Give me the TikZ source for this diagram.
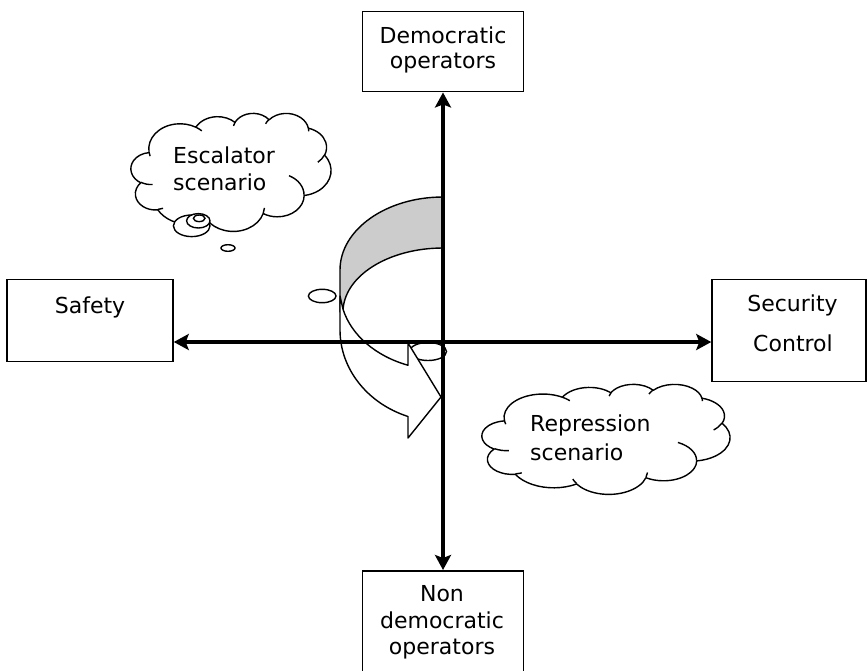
\documentclass[tikz,border=0pt]{standalone}
\usepackage{fontspec}
\setmainfont{DejaVu Sans}
\usetikzlibrary{arrows.meta}
\definecolor{bandgray}{RGB}{204,204,204}
% OOXML-style elliptical arc: wR hR stAng swAng (visual angles -> parametric)
\newcommand\ooCalc[4]{%
  \pgfmathparse{atan2((#1)*sin(#3),(#2)*cos(#3))}\xdef\ooTs{\pgfmathresult}%
  \pgfmathparse{atan2((#1)*sin((#3)+(#4)),(#2)*cos((#3)+(#4)))}\xdef\ooTe{\pgfmathresult}%
  \pgfmathparse{\ooTe-(\ooTs)}\xdef\ooD{\pgfmathresult}%
  \ifdim\ooD pt<0pt \pgfmathparse{\ooD+360}\xdef\ooD{\pgfmathresult}\fi}
\newcommand\ooArc[4]{\pgfextra{\ooCalc{#1}{#2}{#3}{#4}} arc[start angle=\ooTs, delta angle=\ooD, x radius=#1, y radius=#2]}
\newcommand\ooCloud[4]{%
\begin{scope}[shift={(#1,#2)}, xscale=#3/432, yscale=#4/432]
\draw[cloudline, fill=white] (39.00,143.70)
  \ooArc{67.53}{91.90}{-190.487}{123.781}
  \ooArc{53.33}{72.67}{-144.102}{89.945}
  \ooArc{43.65}{59.45}{-145.808}{99.723}
  \ooArc{48.57}{65.95}{-130.986}{117.242}
  \ooArc{53.33}{72.73}{-78.709}{109.027}
  \ooArc{67.75}{92.20}{-46.267}{130.269}
  \ooArc{57.85}{78.67}{0.625}{114.033}
  \ooArc{67.52}{92.15}{22.452}{115.173}
  \ooArc{77.20}{105.43}{66.243}{75.711}
  \ooArc{43.60}{59.18}{-274.942}{146.736}
  \ooArc{43.45}{59.45}{-246.829}{152.519}
  -- cycle;
\draw[cloudline]
  (46.93,261.77) \ooArc{43.45}{59.45}{86.742}{26.430}
  (69.28,348.99) \ooArc{43.60}{59.18}{73.610}{11.447}
  (164.78,390.90) \ooArc{67.52}{92.15}{137.624}{14.081}
  (288.27,347.51) \ooArc{67.52}{92.15}{6.453}{15.998}
  (341.29,229.54) \ooArc{57.85}{78.67}{-70.292}{70.917}
  (417.98,153.54) \ooArc{53.33}{72.73}{30.318}{27.752}
  (383.24,54.26) \ooArc{48.57}{65.95}{-13.744}{14.859}
  (290.78,39.52) \ooArc{48.57}{65.95}{-149.181}{18.195}
  (221.41,47.20) \ooArc{43.65}{59.45}{-163.494}{17.686}
  (140.00,51.92) \ooArc{67.53}{91.90}{-66.707}{12.319}
  (41.27,157.89) \ooArc{67.53}{91.90}{157.654}{11.858};
\end{scope}}
\begin{document}
\begin{tikzpicture}[x=1pt,y=-1pt,
  box/.style={draw, line width=1.5pt, inner sep=0pt, fill=white},
  lbl/.style={font=\fontsize{22}{26}\selectfont, inner sep=0pt, anchor=base},
  axisline/.style={line width=3.5pt,
    {Stealth[length=15pt,width=16pt,inset=3pt]}-{Stealth[length=15pt,width=16pt,inset=3pt]}},
  thinline/.style={line width=1.4pt, line join=round},
  cloudline/.style={line width=1.4pt, line join=round},
  bubble/.style={draw, line width=1.4pt, fill=white}]
\useasboundingbox[fill=white] (0,0) rectangle (867,670);

% small ellipses near the axes
\draw[bubble] (322.2,296) ellipse [x radius=13.8, y radius=6.7];
\draw[bubble] (428,351.5) ellipse [x radius=18.5, y radius=9];

% curved arrow: grey back face
\draw[thinline, fill=bandgray] (443,197)
  arc[start angle=-90, end angle=-180, x radius=103, y radius=73]
  -- (340,312) -- (343,312)
  arc[start angle=180, end angle=270, x radius=100, y radius=64]
  -- cycle;
% curved arrow: white front face with head
\draw[thinline, fill=white] ([shift={(443,290)}]166.14:103 and 80)
  arc[start angle=166.14, end angle=109.87, x radius=103, y radius=80]
  -- (408,343) -- (441,397) -- (408,438) -- (408,416.5)
  arc[start angle=109.87, end angle=180, x radius=103, y radius=92]
  -- (340,296) -- cycle;

% boxes
\node[box, minimum width=161, minimum height=80] (demo) at (443,51.7) {};
\node[box, minimum width=161, minimum height=106, anchor=north] (nondemo) at (443,570) {};
\node[box, minimum width=166, minimum height=82.4] (safety) at (90,320.5) {};
\node[box, minimum width=154, minimum height=102.4] (security) at (789,330.5) {};
\coordinate (O) at (443,342);

% axes
\draw[axisline] (demo.south) -- (nondemo.north);
\draw[axisline] (safety.east |- O) -- (security.west |- O);

% box texts
\node[lbl] (demoA) at (443,43) {Democratic};
\node[lbl] (demoB) at (443,68) {operators};
\node[lbl] (nondemoA) at (442,601) {Non};
\node[lbl] (nondemoB) at (442,628) {democratic};
\node[lbl] (nondemoC) at (442,654) {operators};
\node[lbl] (safetyA) at (90,313) {Safety};
\node[lbl] (securityA) at (792.5,311.7) {Security};
\node[lbl] (securityB) at (793,351.7) {Control};

% clouds
\ooCloud{131}{113}{200}{118}
\ooCloud{482}{384}{248}{110}
\draw[bubble] (191.7,225.8) ellipse [x radius=18.3, y radius=10.8];
\draw[bubble] (198.3,220.8) ellipse [x radius=11.7, y radius=7.2];
\draw[bubble] (199.2,218.3) ellipse [x radius=5.8, y radius=3.3];
\draw[bubble] (228,248) ellipse [x radius=7, y radius=3.3];

\node[lbl, anchor=base west] (escA) at (173,163.3) {Escalator};
\node[lbl, anchor=base west] (escB) at (173,190) {scenario};
\node[lbl, anchor=base west] (repA) at (530,431.7) {Repression};
\node[lbl, anchor=base west] (repB) at (530,460) {scenario};
\end{tikzpicture}
\end{document}
